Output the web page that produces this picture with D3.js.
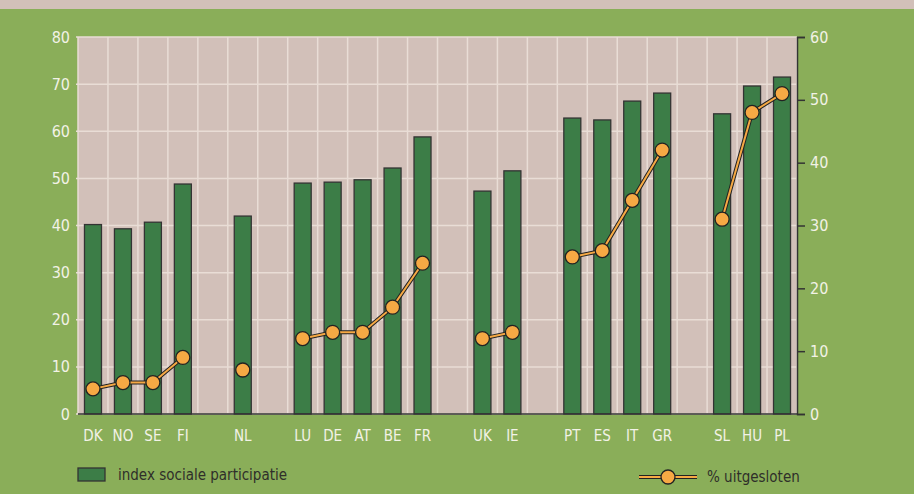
<!DOCTYPE html>
<html>
<head>
<meta charset="utf-8">
<script src="https://cdn.jsdelivr.net/npm/d3@7"></script>
<style>
  body { margin: 0; background: #8aae59; }
  svg { display: block; }
  text { font-family: "Liberation Sans Narrow", "DejaVu Sans Condensed", sans-serif; }
</style>
</head>
<body>
<div class="chart"></div>
<script>
// landen per groep, lege kolom tussen de groepen
var groups = [
    ["DK", "NO", "SE", "FI"],
    ["NL"],
    ["LU", "DE", "AT", "BE", "FR"],
    ["UK", "IE"],
    ["PT", "ES", "IT", "GR"],
    ["SL", "HU", "PL"]
];
var participatie = [40.2, 39.3, 40.7, 48.8, 42.0, 49.0, 49.2, 49.7, 52.2, 58.8, 47.3, 51.6, 62.8, 62.4, 66.4, 68.1, 63.7, 69.6, 71.5];
var uitgesloten = [4, 5, 5, 9, 7, 12, 13, 13, 17, 24, 12, 13, 25, 26, 34, 42, 31, 48, 51];
var leftTicks = [0, 10, 20, 30, 40, 50, 60, 70, 80];
var rightTicks = [0, 10, 20, 30, 40, 50, 60];

var W = 914, H = 494;
var plotL = 78, plotR = 797, plotT = 37, plotB = 414;

// slots opbouwen
var slots = [];
var data = [];
var i = 0;
groups.forEach(function (g, gi) {
    if (gi > 0) slots.push(null);
    g.forEach(function (c) {
        data.push({ land: c, slot: slots.length, groep: gi, p: participatie[i], u: uitgesloten[i] });
        slots.push(c);
        i++;
    });
});

var svg = d3.select(".chart").append("svg:svg")
    .attr("width", W)
    .attr("height", H);

svg.append("rect").attr("width", W).attr("height", H).attr("fill", "#8aae59");
svg.append("rect").attr("width", W).attr("height", 9).attr("fill", "#d2c0b9");

var x = d3.scaleBand().domain(d3.range(slots.length)).range([plotL, plotR]);
var yL = d3.scaleLinear().domain([0, 80]).range([plotB, plotT]);
var yR = d3.scaleLinear().domain([0, 60]).range([plotB, plotT]);

// plotvlak
svg.append("rect")
    .attr("x", plotL).attr("y", plotT)
    .attr("width", plotR - plotL).attr("height", plotB - plotT)
    .attr("fill", "#d2c0b9");

var grid = svg.append("g").attr("stroke", "#e9ddd6").attr("stroke-width", 1.5);
grid.selectAll("line.v").data(d3.range(slots.length + 1)).enter().append("line")
    .attr("class", "v")
    .attr("x1", function (d) { return plotL + d * x.step(); })
    .attr("x2", function (d) { return plotL + d * x.step(); })
    .attr("y1", plotT).attr("y2", plotB);
grid.selectAll("line.h").data(leftTicks).enter().append("line")
    .attr("class", "h")
    .attr("x1", plotL - 2).attr("x2", plotR)
    .attr("y1", function (d) { return yL(d); })
    .attr("y2", function (d) { return yL(d); });

// staven
svg.append("g").selectAll("rect").data(data).enter().append("rect")
    .attr("x", function (d) { return x(d.slot) + x.bandwidth() / 2 - 8.5; })
    .attr("y", function (d) { return yL(d.p); })
    .attr("width", 17)
    .attr("height", function (d) { return plotB - yL(d.p); })
    .attr("fill", "#3c7d47")
    .attr("stroke", "#333")
    .attr("stroke-width", 1.3);

// bodem-as
svg.append("line")
    .attr("x1", plotL).attr("x2", plotR)
    .attr("y1", plotB).attr("y2", plotB)
    .attr("stroke", "#333").attr("stroke-width", 1.5);

// linker as labels
svg.append("g").selectAll("text").data(leftTicks).enter().append("text")
    .attr("x", 70)
    .attr("y", function (d) { return yL(d); })
    .attr("dy", "0.35em")
    .attr("text-anchor", "end")
    .attr("font-size", 16)
    .attr("fill", "#f2f2e6")
    .text(function (d) { return d; });

// rechter as
var rAxis = d3.axisRight(yR).tickValues(rightTicks).tickSize(8).tickPadding(5);
var gR = svg.append("g").attr("transform", "translate(" + plotR + ",0)").call(rAxis);
gR.select(".domain").attr("stroke", "#333").attr("stroke-width", 1.5);
gR.selectAll(".tick line").attr("stroke", "#333").attr("stroke-width", 1.5);
gR.selectAll(".tick text")
    .attr("font-size", 16)
    .attr("font-family", "Liberation Sans Narrow, DejaVu Sans Condensed, sans-serif")
    .attr("fill", "#f2f2e6");

// landlabels
svg.append("g").selectAll("text").data(data).enter().append("text")
    .attr("x", function (d) { return x(d.slot) + x.bandwidth() / 2; })
    .attr("y", 441)
    .attr("text-anchor", "middle")
    .attr("font-size", 15)
    .attr("fill", "#f2f2e6")
    .text(function (d) { return d.land; });

// lijn per groep
var line = d3.line()
    .x(function (d) { return x(d.slot) + x.bandwidth() / 2; })
    .y(function (d) { return yR(d.u); });
var lines = svg.append("g");
groups.forEach(function (g, gi) {
    var pts = data.filter(function (d) { return d.groep === gi; });
    if (pts.length < 2) return;
    lines.append("path").attr("d", line(pts)).attr("fill", "none")
        .attr("stroke", "#222").attr("stroke-width", 4);
    lines.append("path").attr("d", line(pts)).attr("fill", "none")
        .attr("stroke", "#f6a944").attr("stroke-width", 2);
});
svg.append("g").selectAll("circle").data(data).enter().append("circle")
    .attr("cx", function (d) { return x(d.slot) + x.bandwidth() / 2; })
    .attr("cy", function (d) { return yR(d.u); })
    .attr("r", 7)
    .attr("fill", "#f6a944")
    .attr("stroke", "#222")
    .attr("stroke-width", 1.3);

// legenda
var leg = svg.append("g");
leg.append("rect").attr("x", 78).attr("y", 468).attr("width", 27).attr("height", 13)
    .attr("fill", "#3c7d47").attr("stroke", "#333").attr("stroke-width", 1.3);
leg.append("text").attr("x", 118).attr("y", 475).attr("dy", "0.35em")
    .attr("font-size", 15).attr("fill", "#2f2f2a").text("index sociale participatie");

leg.append("line").attr("x1", 639).attr("x2", 697).attr("y1", 477).attr("y2", 477)
    .attr("stroke", "#222").attr("stroke-width", 4);
leg.append("line").attr("x1", 639).attr("x2", 697).attr("y1", 477).attr("y2", 477)
    .attr("stroke", "#f6a944").attr("stroke-width", 2);
leg.append("circle").attr("cx", 668).attr("cy", 477).attr("r", 7)
    .attr("fill", "#f6a944").attr("stroke", "#222").attr("stroke-width", 1.3);
leg.append("text").attr("x", 707).attr("y", 477).attr("dy", "0.35em")
    .attr("font-size", 15).attr("fill", "#2f2f2a").text("% uitgesloten");
</script>
</body>
</html>
